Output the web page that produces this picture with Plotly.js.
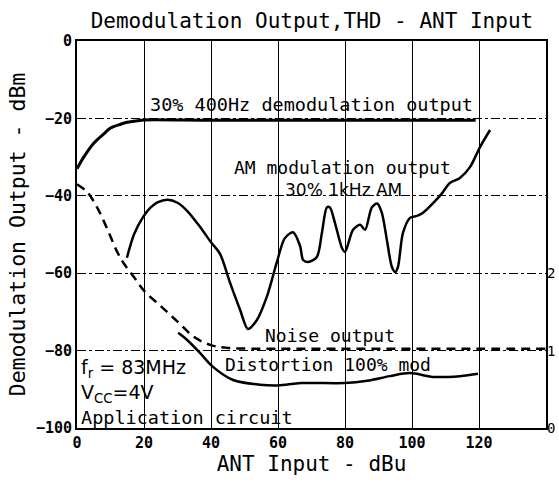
<!DOCTYPE html>
<html>
<head>
<meta charset="utf-8">
<script src="https://cdn.plot.ly/plotly-3.0.1.min.js"></script>
<style>html,body{margin:0;padding:0;background:#fff}#chart{width:559px;height:488px}</style>
</head>
<body>
<div id="chart"></div>
<script>
// ANT input (dBu) / output (dBm)
const demodX = [0, 2, 5, 8, 10, 13, 15, 18, 20, 40, 60, 80, 100, 119];
const demodY = [-33, -30, -26.4, -24, -22.5, -21.5, -21, -20.6, -20.4, -20.5, -20.5, -20.5, -20.5, -20.5];

const noiseX = [0, 3, 6, 9, 12, 14, 17, 20, 25, 30, 35, 40, 45, 60, 80, 100, 120, 140];
const noiseY = [-37, -39, -43, -48.5, -54.5, -57.5, -61, -64.5, -68.5, -72.5, -76.5, -78.6, -79.3, -79.5, -79.5, -79.5, -79.5, -79.5];

const amX = [14.9, 17, 19.7, 22, 24, 27, 30, 33, 36.7, 40, 42.7, 45.7, 48.7, 51, 53.7, 56.7, 59.7, 62, 64.5, 66.6, 67.5, 69, 71.6, 73.1, 74.6, 75.5, 77, 79.1, 80, 82.4, 84.5, 86, 88, 89.6, 91, 92.5, 94, 95, 95.8, 97.3, 99.4, 101.5, 103.3, 106.3, 109, 111.3, 114.3, 117.3, 120.3, 123.3];
const amY = [-56, -50, -45.5, -43, -41.7, -41, -41.8, -44, -48, -52, -55, -62.5, -69.5, -74.4, -72.1, -66, -57, -51, -49.4, -53, -56.6, -57.1, -55.8, -49.6, -43, -43, -47, -53.5, -54.5, -48.8, -47.5, -48.8, -43, -42, -44.4, -51.4, -58.4, -59.7, -58.4, -49.6, -45.7, -45.2, -44.4, -41.9, -39.3, -36.7, -35.4, -32.6, -27.4, -23];

// Distortion (THD %, right axis)
const distX = [30.2, 32.8, 36.7, 40.6, 46.6, 54.6, 60, 67, 80, 86.6, 93.4, 99.4, 106.3, 114.3, 119.7];
const distTHD = [1.23, 1.14, 0.97, 0.79, 0.62, 0.56, 0.55, 0.58, 0.58, 0.61, 0.67, 0.71, 0.66, 0.67, 0.70];

const xTicks = [0, 20, 40, 60, 80, 100, 120, 140];
const yTicks = [0, -20, -40, -60, -80, -100];
const thdTicks = [0, 1, 2];

const mono = "DejaVu Sans Mono";
const traces = [
  {x: demodX, y: demodY, mode: 'lines', line: {color: '#000', width: 3, shape: 'spline'}, hoverinfo: 'skip'},
  {x: noiseX, y: noiseY, mode: 'lines', line: {color: '#000', width: 2.5, dash: '9px,6px', shape: 'spline'}, hoverinfo: 'skip'},
  {x: amX, y: amY, mode: 'lines', line: {color: '#000', width: 2.5, shape: 'spline', smoothing: 0.8}, hoverinfo: 'skip'},
  {x: distX, y: distTHD, yaxis: 'y2', mode: 'lines', line: {color: '#000', width: 2.5, shape: 'spline'}, hoverinfo: 'skip'}
];

const annFont = {family: mono, size: 18, color: '#000'};
function ann(text, x, y, font) {
  return {text: text, x: x, y: y, xref: 'x', yref: 'y', xanchor: 'left', yanchor: 'middle', showarrow: false, font: font || annFont};
}
const sans = {family: 'DejaVu Sans', size: 17, color: '#000'};
const sansBig = {family: 'DejaVu Sans', size: 19, color: '#000'};

const layout = {
  width: 559, height: 488,
  margin: {l: 77, r: 13, t: 41, b: 60},
  paper_bgcolor: '#fff', plot_bgcolor: '#fff',
  showlegend: false,
  title: {text: 'Demodulation Output,THD - ANT Input', x: 0.558, xanchor: 'center', y: 0.957, yanchor: 'middle', font: {family: mono, size: 21, color: '#000'}},
  xaxis: {
    range: [0, 140], tickvals: xTicks, ticktext: xTicks.map(String),
    showgrid: true, gridcolor: '#000', gridwidth: 1,
    showline: true, linecolor: '#000', linewidth: 2, mirror: true,
    ticks: '', zeroline: false,
    tickfont: {family: mono, size: 15, color: '#000', weight: 'bold'},
    title: {text: 'ANT Input - dBu', standoff: 4, font: {family: mono, size: 21, color: '#000'}}
  },
  yaxis: {
    range: [-100, 0], tickvals: yTicks, ticktext: yTicks.map(v => v === 0 ? '0' : '\u2212' + Math.abs(v)),
    showgrid: true, gridcolor: '#000', gridwidth: 1, griddash: 'dashdot',
    showline: true, linecolor: '#000', linewidth: 2, mirror: true,
    ticks: '', zeroline: false,
    tickfont: {family: mono, size: 15, color: '#000', weight: 'bold'},
    title: {text: 'Demodulation Output - dBm', standoff: 4, font: {family: mono, size: 21.5, color: '#000'}}
  },
  yaxis2: {
    range: [0, 5], overlaying: 'y', side: 'right', tickvals: thdTicks, ticktext: thdTicks.map(String),
    showgrid: false, zeroline: false, showline: false, ticks: '',
    tickfont: {family: mono, size: 14, color: '#000'}
  },
  annotations: [
    ann('30% 400Hz demodulation output', 21.2, -16.5, {family: mono, size: 18.5, color: '#000'}),
    ann('AM modulation output', 46.3, -32.6),
    ann('30% 1kHz AM', 61.5, -38.5, sans),
    ann('Noise output', 55.5, -76),
    ann('Distortion 100% mod', 43.6, -83.7),
    ann('f<sub>r</sub> = 83MHz', 0.5, -84.5, sansBig),
    ann('V<sub>CC</sub>=4V', 0.5, -91, sansBig),
    ann('Application circuit', 0.5, -97.2, {family: mono, size: 18.5, color: '#000'})
  ]
};

Plotly.newPlot('chart', traces, layout, {staticPlot: true, displayModeBar: false});
</script>
</body>
</html>
